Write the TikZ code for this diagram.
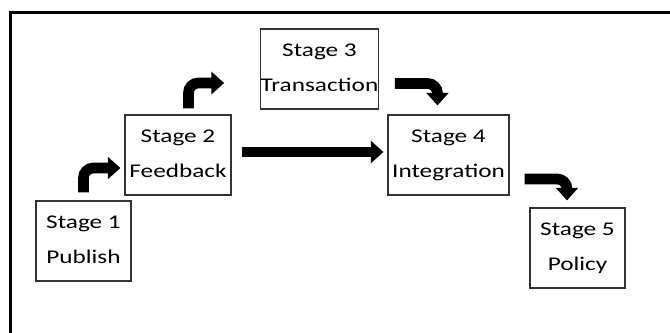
\documentclass[tikz,border=0pt]{standalone}
\usepackage{fontspec}
\setmainfont{Carlito}[FakeStretch=1.3]
\usetikzlibrary{arrows.meta}

\begin{document}
\begin{tikzpicture}[
    x=0.025cm, y=-0.025cm,
    % --- Styles ---
    frame line/.style={draw=black, line width=1.8pt},
    stage box/.style={draw=black!80, line width=0.8pt, minimum height=2cm,
        align=center, font=\fontsize{13.8pt}{25pt}\selectfont, inner sep=0pt,
        text depth=2pt},
    % Thick block arrows
    block arrow/.style={line width=6.8pt, rounded corners=7pt,
        -{Triangle[length=9pt, width=15.5pt]}},
    bent arrow/.style={block arrow, line width=7.6pt}
]

%================CONFIGURATION================
\def\px{0.025cm}
%=============================================

\useasboundingbox (0,0) rectangle (670,332);
\clip (0,0) rectangle (670,332);

% outer frame (runs off the right and bottom)
\draw[frame line] (10.5,12.5) rectangle (700,360);

% --- the five stages ---
\node[stage box, minimum width=95*\px]  (s1) at (83.5,241) {Stage 1\\Publish};
\node[stage box, minimum width=106*\px] (s2) at (178,155)  {Stage 2\\Feedback};
\node[stage box, minimum width=115*\px] (s3) at (319.5,69) {Stage 3\\Transaction};
\node[stage box, minimum width=121*\px] (s4) at (448.5,155) {Stage 4\\Integration};
\node[stage box, minimum width=95*\px]  (s5) at (577.5,248) {Stage 5\\Policy};

% --- arrows between stages ---
\draw[bent arrow] ([yshift=8*\px]s1.north) |- ([xshift=-4*\px, yshift=-13*\px]s2.west);
\draw[bent arrow] ([xshift=10.5*\px, yshift=6*\px]s2.north) |- ([xshift=-36*\px, yshift=-14*\px]s3.west);
\draw[block arrow] ([xshift=10*\px, yshift=3*\px]s2.east) -- ([xshift=-4*\px, yshift=3*\px]s4.west);
\draw[bent arrow] ([xshift=16*\px, yshift=-14.5*\px]s3.east) -| ([xshift=-11*\px, yshift=9*\px]s4.north);
\draw[bent arrow] ([xshift=15*\px, yshift=-24*\px]s4.east) -| ([xshift=-10.5*\px, yshift=7*\px]s5.north);

\end{tikzpicture}
\end{document}
